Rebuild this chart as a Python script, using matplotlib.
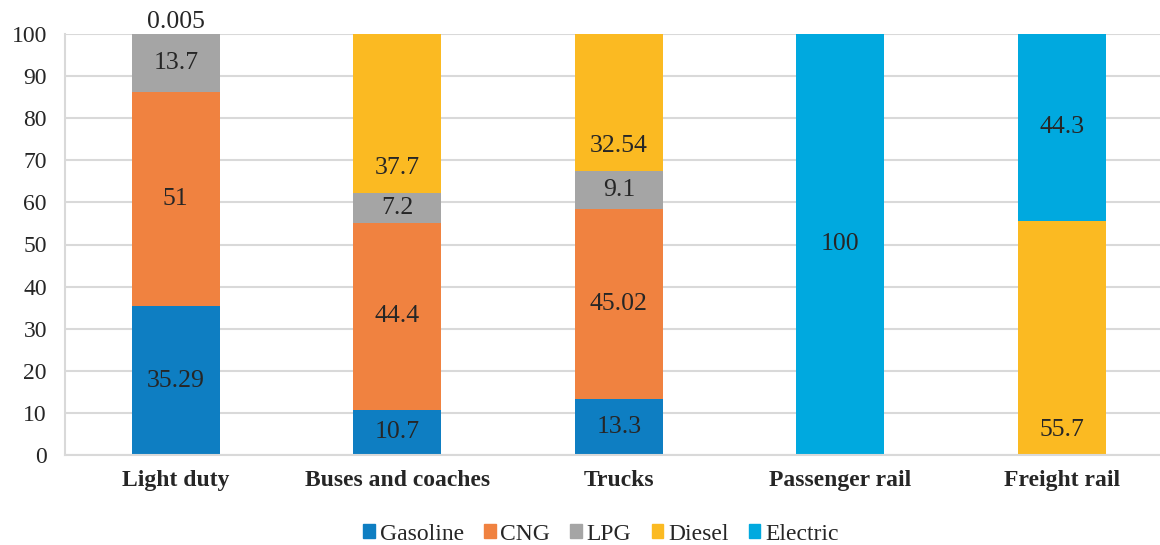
import numpy as np
import matplotlib
matplotlib.use("Agg")
import matplotlib.pyplot as plt
from matplotlib.patches import Patch

categories = ["Light duty", "Buses and coaches", "Trucks", "Passenger rail", "Freight rail"]
fuels = ["Gasoline", "CNG", "LPG", "Diesel", "Electric"]
gasoline = [35.29, 10.7, 13.3, 0, 0]
cng = [51, 44.4, 45.02, 0, 0]
lpg = [13.7, 7.2, 9.1, 0, 0]
diesel = [0.005, 37.7, 32.54, 0, 55.7]
electric = [0, 0, 0, 100, 44.3]
yticks = list(range(0, 101, 10))

colors = ["#0E7EC2", "#F08240", "#A5A5A5", "#FBBA22", "#00A9DF"]
series = [gasoline, cng, lpg, diesel, electric]

plt.rcParams["font.family"] = ["Liberation Serif", "DejaVu Serif"]
text_c = "#262626"

fig = plt.figure(figsize=(11.6, 5.45), dpi=100)
ax = fig.add_axes([65 / 1160, 90 / 545, 1095 / 1160, 421 / 545])

x = np.arange(len(categories))
w = 0.397
lab_fs = 18.5
bottom = np.zeros(len(categories))
for name, vals, c in zip(fuels, series, colors):
    vals = np.array(vals, dtype=float)
    ax.bar(x, vals, w, bottom=bottom, color=c, zorder=2)
    for xi, b, v in zip(x, bottom, vals):
        if v <= 0:
            continue
        if name == "Diesel":
            # these labels sit at the base of the segment
            off = 18 if v > 1 else 9
            ax.annotate(f"{v:g}", (xi, b), xytext=(0, off), textcoords="offset points",
                        ha="center", va="center", fontsize=lab_fs, color=text_c, zorder=3)
        else:
            ax.text(xi, b + v / 2, f"{v:g}", ha="center", va="center",
                    fontsize=lab_fs, color=text_c, zorder=3)
    bottom += vals

ax.set_xlim(-0.5, (1160 - 176) / 221.5)
ax.set_ylim(0, 100)
ax.set_yticks(yticks)
ax.set_xticks(x)
ax.set_xticklabels(categories, fontsize=17, fontweight="bold", color=text_c)
ax.tick_params(axis="y", length=0, pad=13, labelsize=17, labelcolor=text_c)
ax.tick_params(axis="x", length=0, pad=11)
ax.grid(axis="y", color="#D9D9D9", lw=1.5, zorder=0)
for s in ["top", "right"]:
    ax.spines[s].set_visible(False)
for s in ["left", "bottom"]:
    ax.spines[s].set_color("#D9D9D9")
    ax.spines[s].set_linewidth(1.5)

handles = [Patch(color=c, label=f) for f, c in zip(fuels, colors)]
fig.legend(handles=handles, loc="center", bbox_to_anchor=(0.518, 0.02), ncol=5,
           frameon=False, fontsize=17, handlelength=0.5, handleheight=0.5,
           handletextpad=0.2, columnspacing=0.85, labelcolor=text_c)

fig.savefig("out.png", dpi=100)
